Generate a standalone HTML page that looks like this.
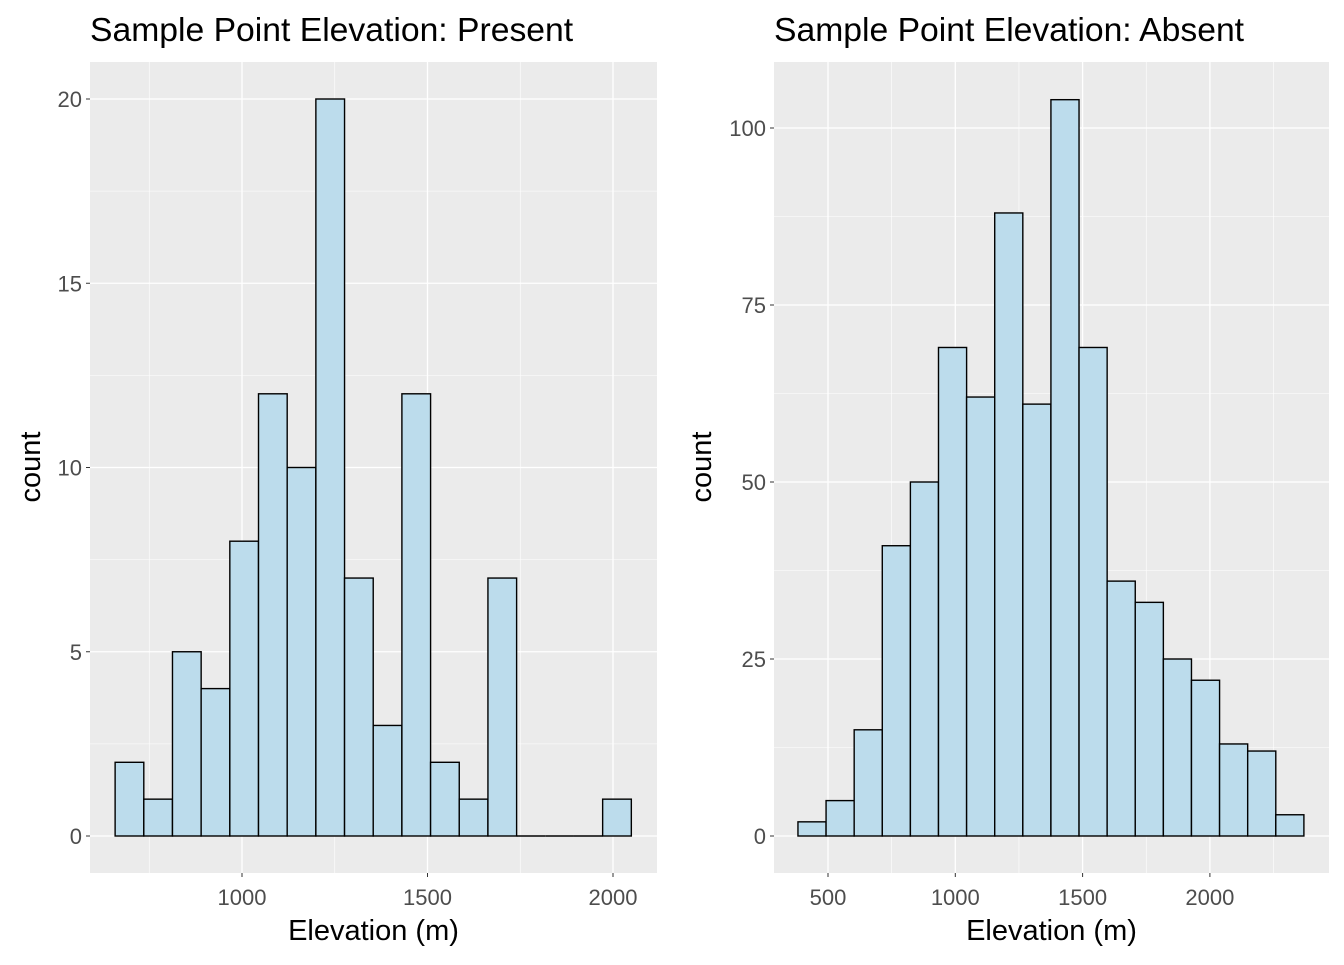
<!DOCTYPE html>
<html><head><meta charset="utf-8"><style>
body{margin:0;background:#fff}
text{font-family:"Liberation Sans",sans-serif}
</style></head><body>
<svg id="svg" width="1344" height="960" xmlns="http://www.w3.org/2000/svg"></svg>
<script>
const presentStart = 658, presentBinWidth = 77.3;
const presentCounts = [2,1,5,4,8,12,10,20,7,3,12,2,1,7,0,0,0,1];
const presentYTicks = [0,5,10,15,20];
const presentXTicks = [1000,1500,2000];
const absentStart = 382, absentBinWidth = 110.4;
const absentCounts = [2,5,15,41,50,69,62,88,61,104,69,36,33,25,22,13,12,3];
const absentYTicks = [0,25,50,75,100];
const absentXTicks = [500,1000,1500,2000];

const NS="http://www.w3.org/2000/svg";
const svg=document.getElementById('svg');
function el(tag,attrs,parent){const e=document.createElementNS(NS,tag);for(const k in attrs)e.setAttribute(k,attrs[k]);(parent||svg).appendChild(e);return e;}

function panel(cfg){
  const g=el('g',{});
  
  
  const sx=v=>cfg.x0px+(v-cfg.x0v)*cfg.xs;
  const sy=v=>cfg.y0px-v*cfg.ys;
  const bg=el('rect',{x:cfg.left,y:62,width:cfg.right-cfg.left,height:811,fill:'#ebebeb'},g);
  
  
  const yStep=cfg.yTicks[1]-cfg.yTicks[0];
  for(let v=-yStep/2;v<=cfg.yMax;v+=yStep){const y=sy(v);if(y<62||y>873)continue;el('line',{x1:cfg.left,x2:cfg.right,y1:y,y2:y,stroke:'#fff','stroke-width':0.6},g);}
  const xStep=cfg.xTicks[1]-cfg.xTicks[0];
  for(let v=cfg.xTicks[0]-xStep/2;;v+=xStep){const x=sx(v);if(x>cfg.right)break;if(x<cfg.left)continue;el('line',{x1:x,x2:x,y1:62,y2:873,stroke:'#fff','stroke-width':0.6},g);}
  cfg.yTicks.forEach(v=>{const y=sy(v);el('line',{x1:cfg.left,x2:cfg.right,y1:y,y2:y,stroke:'#fff','stroke-width':1.3},g);
    el('line',{x1:cfg.left-4,x2:cfg.left,y1:y,y2:y,stroke:'#333','stroke-width':1},g);
    const t=el('text',{x:cfg.left-8,y:y+8,'text-anchor':'end','font-size':22,fill:'#4d4d4d'},g);t.textContent=v;
    });
  cfg.xTicks.forEach(v=>{const x=sx(v);el('line',{x1:x,x2:x,y1:62,y2:873,stroke:'#fff','stroke-width':1.3},g);
    el('line',{x1:x,x2:x,y1:873,y2:877,stroke:'#333','stroke-width':1},g);
    const t=el('text',{x:x,y:905,'text-anchor':'middle','font-size':22,fill:'#4d4d4d'},g);t.textContent=v;
    });
  cfg.counts.forEach((c,i)=>{const x1=sx(cfg.start+i*cfg.bw),x2=sx(cfg.start+(i+1)*cfg.bw);
    let r;
    if(c===0){r=el('line',{x1:x1,x2:x2,y1:sy(0),y2:sy(0),stroke:'#000','stroke-width':1.4},g);}
    else{r=el('rect',{x:x1,y:sy(c),width:x2-x1,height:sy(0)-sy(c),fill:'#bcdcec',stroke:'#000','stroke-width':1.4},g);}
    });
  const t=el('text',{x:cfg.left,y:41,'font-size':33.7,fill:'#000'},g);t.textContent=cfg.title;
  
  const xt=el('text',{x:(cfg.left+cfg.right)/2,y:940,'text-anchor':'middle','font-size':29,fill:'#000'},g);xt.textContent='Elevation (m)';
  
  const yt=el('text',{x:0,y:0,transform:`translate(${cfg.left-cfg.ytOff},467) rotate(-90)`,'text-anchor':'middle','font-size':29,fill:'#000'},g);yt.textContent='count';
  
}
panel({name:'present-panel',left:90,right:657,x0px:242,x0v:1000,xs:185.5/500,y0px:836,ys:(836-99)/20,yMax:22,ytOff:50,
  yTicks:presentYTicks,xTicks:presentXTicks,counts:presentCounts,start:presentStart,bw:presentBinWidth,title:'Sample Point Elevation: Present'});
panel({name:'absent-panel',left:774,right:1329,x0px:828,x0v:500,xs:127.3/500,y0px:836,ys:(836-128)/100,yMax:110,ytOff:63,
  yTicks:absentYTicks,xTicks:absentXTicks,counts:absentCounts,start:absentStart,bw:absentBinWidth,title:'Sample Point Elevation: Absent'});
</script>
</body></html>
